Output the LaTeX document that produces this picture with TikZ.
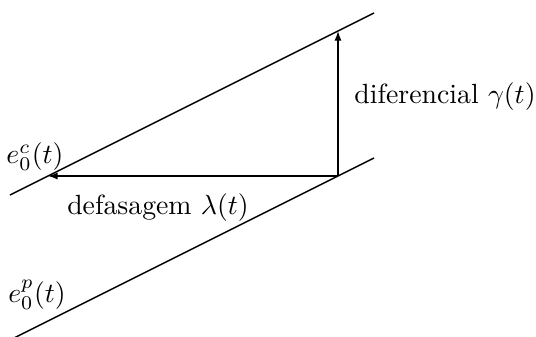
\documentclass[tikz,border=0pt]{standalone}
\usetikzlibrary{arrows.meta}
\begin{document}
\begin{tikzpicture}[x=0.36pt,y=-0.36pt,
  ln/.style={line width=0.5pt},
  arr/.style={line width=0.5pt,-{Latex[length=3.5pt,width=2.6pt]}},
  lbl/.style={inner sep=0pt}]
\useasboundingbox (0,0) rectangle (536,336);
\coordinate (u1) at (10,195);
\coordinate (u2) at (374,13);
\coordinate (l1) at (10,340);
\coordinate (l2) at (374,158);
\coordinate (c) at (338,176);
\coordinate (h) at (48,176);
\coordinate (v) at (338,31);
\draw[ln] (u1) -- (u2);
\draw[ln] (l1) -- (l2);
\draw[arr] (c) -- (h);
\draw[arr] (c) -- (v);
\node[lbl] (ec) at (35,157) {$e_0^c(t)$};
\node[lbl] (ep) at (37,295) {$e_0^p(t)$};
\node[lbl] (def) at (158,208) {defasagem $\lambda(t)$};
\node[lbl] (dif) at (445,97) {diferencial $\gamma(t)$};
\end{tikzpicture}
\end{document}
